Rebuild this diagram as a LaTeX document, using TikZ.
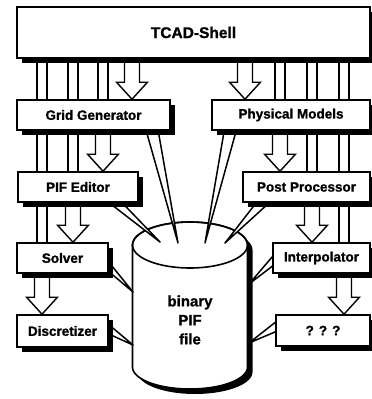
\documentclass[tikz,border=0pt]{standalone}
\usepackage{fontspec}
\setmainfont{Liberation Sans}[BoldFeatures={FakeBold=1.2}]
\usetikzlibrary{shadows,calc}
\pgfdeclarelayer{background}
\pgfdeclarelayer{mid}
\pgfsetlayers{background,mid,main}

\tikzset{
  box/.style={draw, fill=white, line width=1.6pt, inner sep=0pt,
    font=\fontsize{13.5}{15}\selectfont\bfseries,
    drop shadow={shadow xshift=5pt, shadow yshift=-5pt, fill=black, opacity=1}},
  pipe/.style={draw, fill=white, line width=1.4pt},
  spoke/.style={draw, fill=white, line width=1.5pt, line join=round},
}

% wide hollow arrow along the vertical line through #1, from node #2 down to node #3
\newcommand\fatarrow[3]{%
  \draw[pipe] ([xshift=-7.5pt]#1 |- #2.south)
    -- ([xshift=-7.5pt,yshift=17pt]#1 |- #3.north)
    -- ([xshift=-15.5pt,yshift=17pt]#1 |- #3.north)
    -- (#1 |- #3.north)
    -- ([xshift=15.5pt,yshift=17pt]#1 |- #3.north)
    -- ([xshift=7.5pt,yshift=17pt]#1 |- #3.north)
    -- ([xshift=7.5pt]#1 |- #2.south) -- cycle;}
% narrow bar from the shell down behind node #2
\newcommand\thinbar[2]{%
  \draw[pipe] ([xshift=-5pt]#1 |- tcad.south) rectangle ([xshift=5pt]#1 |- #2.south);}
% tapered link from two base points to a tip
\newcommand\linkwedge[3]{\draw[spoke] (#1) -- (#3) -- (#2) -- cycle;}

\begin{document}
\begin{tikzpicture}[x=1pt,y=-1pt]
\useasboundingbox (0,0) rectangle (372,399);

% boxes
\node[box, minimum width=353pt, minimum height=51pt,
      font=\fontsize{15.5}{17}\selectfont\bfseries] (tcad) at (193.5,32.5) {TCAD-Shell};
\node[box, minimum width=153pt, minimum height=30pt] (grid)   at (93.5,115)  {Grid Generator};
\node[box, minimum width=158pt, minimum height=30pt] (phys)   at (291,115)   {Physical Models};
\node[box, minimum width=120pt, minimum height=30pt] (pifed)  at (78,187)    {PIF Editor};
\node[box, minimum width=127pt, minimum height=30pt] (post)   at (306.5,187) {Post Processor};
\node[box, minimum width=91pt,  minimum height=30pt] (solver) at (62.5,258)  {Solver};
\node[box, minimum width=97pt,  minimum height=30pt] (interp) at (321.5,258) {Interpolator};
\node[box, minimum width=91pt,  minimum height=32pt] (disc)   at (62.5,331)  {Discretizer};
\node[box, minimum width=94pt,  minimum height=31pt] (qqq)    at (323,330.5) {? ? ?};

% centre lines of the connections
\coordinate (cGrid)   at (132,0);
\coordinate (cPif)    at (103,0);
\coordinate (cSolver) at (73,0);
\coordinate (cDisc)   at (42,0);
\coordinate (cPhys)   at (245,0);
\coordinate (cPost)   at (280,0);
\coordinate (cInterp) at (312,0);
\coordinate (cQ)      at (344,0);

\begin{pgfonlayer}{background}
  \fill[white] (0,0) rectangle (372,399);
  \thinbar{cPif}{grid}
  \thinbar{cSolver}{pifed}
  \thinbar{cDisc}{solver}
  \thinbar{cPost}{phys}
  \thinbar{cInterp}{post}
  \thinbar{cQ}{interp}
  \fatarrow{cGrid}{tcad}{grid}
  \fatarrow{cPif}{grid}{pifed}
  \fatarrow{cSolver}{pifed}{solver}
  \fatarrow{cDisc}{solver}{disc}
  \fatarrow{cPhys}{tcad}{phys}
  \fatarrow{cPost}{phys}{post}
  \fatarrow{cInterp}{post}{interp}
  \fatarrow{cQ}{interp}{qqq}
\end{pgfonlayer}

\begin{pgfonlayer}{mid}
  % data file cylinder with its shadow
  \fill[black, shift={(5,5)}] (132.5,245) -- (132.5,367)
    -- plot[domain=180:360, samples=60] ({190+57.5*cos(\x)},{367-22*sin(\x)})
    -- (247.5,245)
    -- plot[domain=0:180, samples=60] ({190+57.5*cos(\x)},{245-23*sin(\x)}) -- cycle;
  \filldraw[fill=white, line width=1.6pt] (132.5,245) -- (132.5,367)
    -- plot[domain=180:360, samples=60] ({190+57.5*cos(\x)},{367-22*sin(\x)})
    -- (247.5,245)
    -- plot[domain=0:180, samples=60] ({190+57.5*cos(\x)},{245-23*sin(\x)}) -- cycle;
  \draw[line width=1.6pt] plot[domain=0:360, samples=100] ({190+57.5*cos(\x)},{245-23*sin(\x)}) -- cycle;
  \node[font=\fontsize{15}{19}\selectfont\bfseries, align=center] (pif) at (190,320) {binary\\PIF\\file};

  % tips of the links on the file
  \coordinate (tGrid)   at (178,243);
  \coordinate (tPhys)   at (205,243);
  \coordinate (tPif)    at (160,242);
  \coordinate (tPost)   at (225,243);
  \coordinate (tSolver) at (133,292);
  \coordinate (tDisc)   at (133,345);
  \coordinate (tInterp) at (249,284);
  \coordinate (tQ)      at (249,343);

  \linkwedge{[xshift=130pt]grid.south west}{[xshift=142pt]grid.south west}{tGrid}
  \linkwedge{[xshift=13pt]phys.south west}{[xshift=25pt]phys.south west}{tPhys}
  \linkwedge{[xshift=92pt]pifed.south west}{[xshift=105pt]pifed.south west}{tPif}
  \linkwedge{[xshift=14pt]post.south west}{[xshift=27pt]post.south west}{tPost}
  \linkwedge{[xshift=-4pt,yshift=-15pt]solver.north east}{[xshift=-4pt,yshift=-26pt]solver.north east}{tSolver}
  \linkwedge{[xshift=-4pt,yshift=-7pt]disc.north east}{[xshift=-4pt,yshift=-18pt]disc.north east}{tDisc}
  \linkwedge{[xshift=4pt,yshift=-10pt]interp.north west}{[xshift=4pt,yshift=-21pt]interp.north west}{tInterp}
  \linkwedge{[xshift=4pt,yshift=-5pt]qqq.north west}{[xshift=4pt,yshift=-16pt]qqq.north west}{tQ}
\end{pgfonlayer}
\end{tikzpicture}
\end{document}
